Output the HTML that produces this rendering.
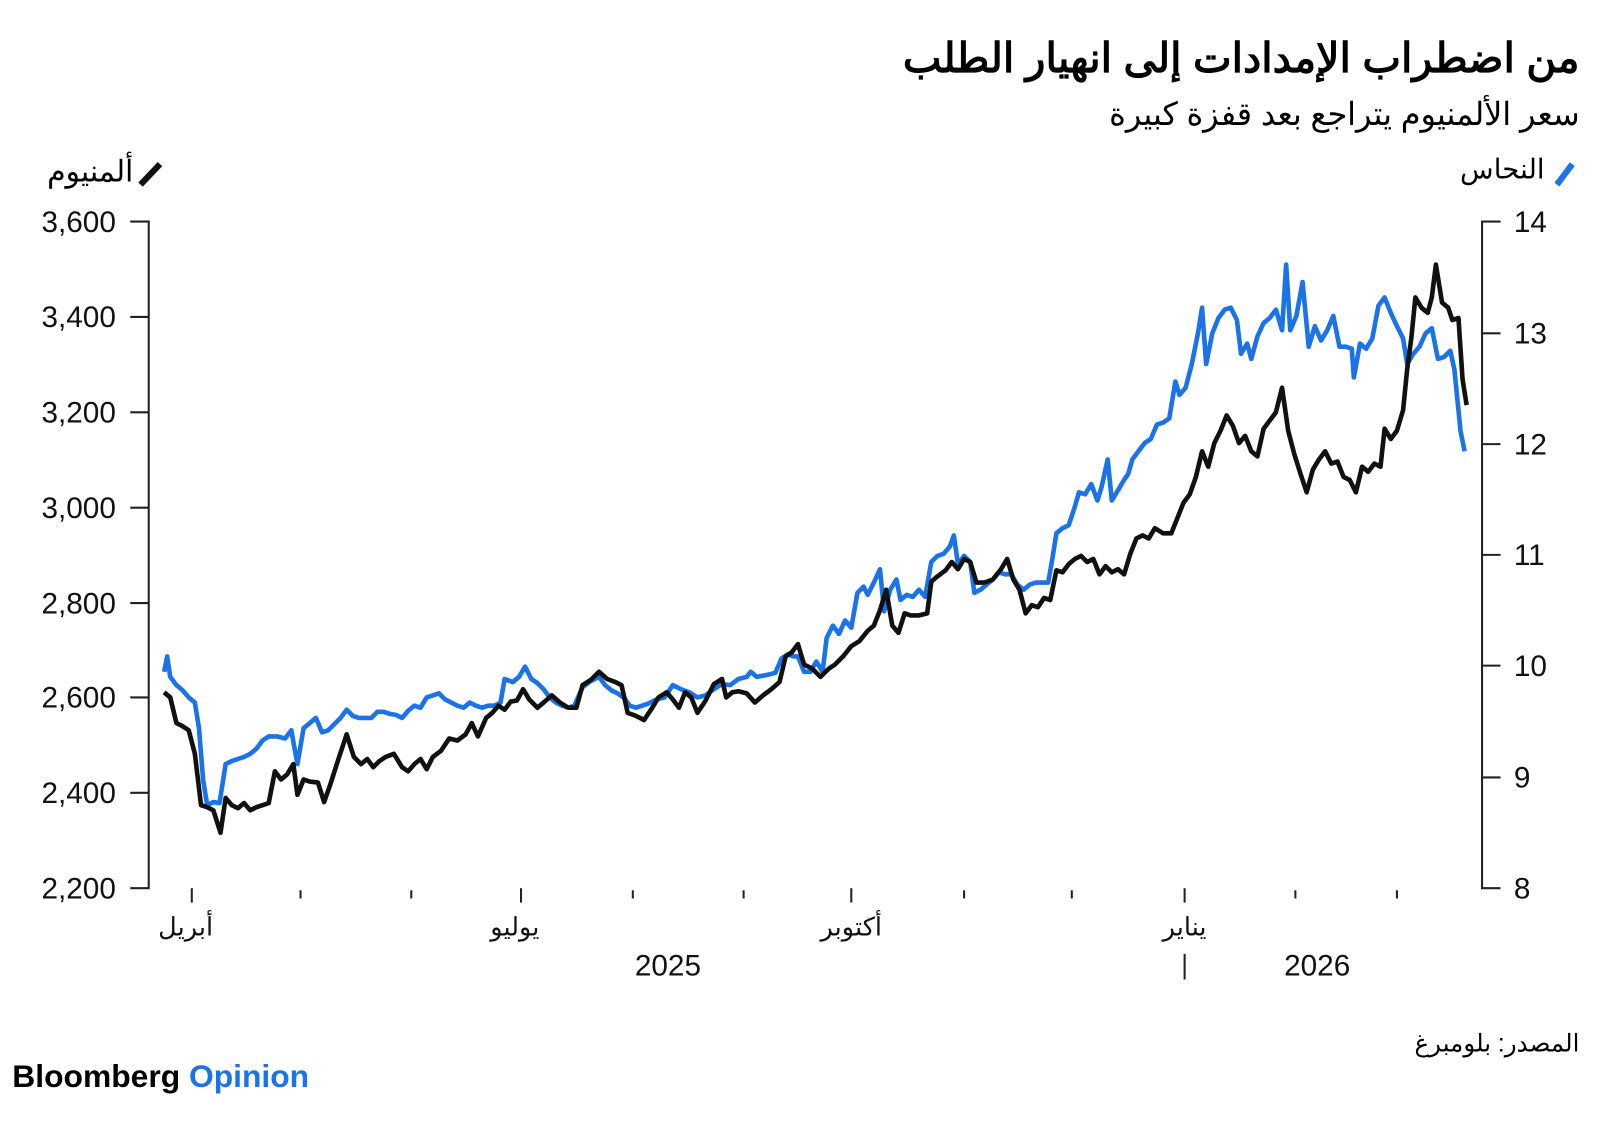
<!DOCTYPE html>
<html><head><meta charset="utf-8">
<style>
html,body{margin:0;padding:0;background:#fff;width:1600px;height:1121px;overflow:hidden}
#w{position:absolute;left:0;top:0;width:1560px;height:1093px;transform:scale(1.02564);transform-origin:0 0;font-family:"Liberation Sans","Noto Sans CJK SC",sans-serif;color:#000}
.t{position:absolute;white-space:nowrap;direction:rtl}
.l{position:absolute;white-space:nowrap}
</style></head><body><div id="w">
<div class="t" style="right:20px;top:34px;font-size:40px;font-weight:bold">من اضطراب الإمدادات إلى انهيار الطلب</div>
<div class="t" style="right:20px;top:94px;font-size:31px">سعر الألمنيوم يتراجع بعد قفزة كبيرة</div>
<div class="t" style="right:54px;top:150px;font-size:27px">النحاس</div>
<div class="t" style="right:1430px;top:150px;font-size:29px">ألمنيوم</div>
<div class="t" style="right:20px;top:1003px;font-size:24px">المصدر: بلومبرغ</div>
<div class="l" style="left:12px;top:1032px;font-size:31px;font-weight:bold">Bloomberg <span style="color:#1a73e8">Opinion</span></div>
<svg width="1560" height="1093" style="position:absolute;left:0;top:0" font-family="Liberation Sans, sans-serif">
<line x1="1518" y1="180" x2="1533" y2="160" stroke="#1a73e8" stroke-width="6"/>
<line x1="137" y1="180" x2="156" y2="160" stroke="#111" stroke-width="6"/>
<g stroke="#222" stroke-width="2" fill="none">
<polyline points="127,216 145,216 145,866 127,866"/>
<polyline points="1463,216 1445,216 1445,866 1463,866"/>
<line x1="145" y1="309" x2="127" y2="309"/><line x1="145" y1="402" x2="127" y2="402"/><line x1="145" y1="495" x2="127" y2="495"/><line x1="145" y1="588" x2="127" y2="588"/><line x1="145" y1="680" x2="127" y2="680"/><line x1="145" y1="773" x2="127" y2="773"/>
<line x1="1445" y1="325" x2="1463" y2="325"/><line x1="1445" y1="433" x2="1463" y2="433"/><line x1="1445" y1="541" x2="1463" y2="541"/><line x1="1445" y1="649" x2="1463" y2="649"/><line x1="1445" y1="758" x2="1463" y2="758"/>
<line x1="187" y1="866" x2="187" y2="880"/><line x1="293" y1="868" x2="293" y2="876"/><line x1="401" y1="868" x2="401" y2="876"/><line x1="508" y1="866" x2="508" y2="880"/><line x1="617" y1="868" x2="617" y2="876"/><line x1="725" y1="868" x2="725" y2="876"/><line x1="830" y1="866" x2="830" y2="880"/><line x1="940" y1="868" x2="940" y2="876"/><line x1="1045" y1="868" x2="1045" y2="876"/><line x1="1155" y1="866" x2="1155" y2="880"/><line x1="1263" y1="868" x2="1263" y2="876"/><line x1="1362" y1="868" x2="1362" y2="876"/>
<line x1="1155" y1="930" x2="1155" y2="955"/>
</g>
<g font-size="29" text-anchor="end" fill="#111">
<text x="113" y="226">3,600</text><text x="113" y="319">3,400</text><text x="113" y="412">3,200</text><text x="113" y="505">3,000</text><text x="113" y="598">2,800</text><text x="113" y="690">2,600</text><text x="113" y="783">2,400</text><text x="113" y="876">2,200</text>
</g>
<g font-size="29" fill="#111">
<text x="1476" y="226">14</text><text x="1476" y="335">13</text><text x="1476" y="443">12</text><text x="1476" y="551">11</text><text x="1476" y="659">10</text><text x="1476" y="768">9</text><text x="1476" y="876">8</text>
<text x="619" y="951">2025</text><text x="1252" y="951">2026</text>
</g>
<g font-size="25" text-anchor="middle" fill="#111" font-family="Liberation Sans, Noto Sans CJK SC, sans-serif">
<text x="181" y="912">أبريل</text><text x="502" y="912">يوليو</text><text x="830" y="912">أكتوبر</text><text x="1155" y="912">يناير</text>
</g>
<polyline fill="none" stroke="#1a73e8" stroke-width="4.5" stroke-linejoin="round" points="160,655 163,640 166,660 172,668 178,673 184,680 190,685 194,710 198,760 202,785 208,782 214,783 220,745 226,742 232,740 238,738 244,735 250,730 256,722 262,718 270,718 278,720 284,712 290,745 296,710 302,705 308,700 314,714 320,712 326,706 332,700 338,692 344,698 350,700 356,700 362,700 368,694 374,694 380,696 386,697 392,700 398,693 404,688 410,690 416,680 422,678 428,676 434,682 440,685 446,688 452,690 458,685 464,688 470,690 476,688 482,688 488,685 492,662 500,665 506,660 512,650 518,662 524,666 530,672 536,680 542,685 548,688 554,690 560,688 568,670 576,664 584,660 590,668 596,673 602,676 608,680 614,688 620,690 626,688 632,686 640,682 648,680 656,668 664,672 672,675 680,680 688,678 696,672 704,667 712,668 720,662 728,660 732,655 738,660 748,658 756,656 762,642 768,638 774,640 778,640 784,655 790,655 796,645 802,655 806,622 812,610 818,618 824,605 830,612 836,578 842,572 846,580 852,568 858,555 862,596 868,575 874,565 878,585 884,580 890,582 896,575 902,582 908,548 914,542 920,540 926,533 930,522 934,550 940,542 946,548 950,578 956,575 962,570 968,565 974,558 980,560 986,560 992,570 998,575 1004,570 1010,568 1016,568 1022,568 1026,545 1030,520 1036,515 1042,512 1048,494 1052,480 1058,482 1064,472 1070,488 1074,475 1080,448 1084,488 1090,478 1096,468 1100,462 1104,448 1110,440 1116,432 1122,428 1128,414 1134,412 1140,408 1146,372 1150,385 1156,378 1162,355 1168,325 1172,300 1176,355 1182,325 1188,310 1194,302 1200,300 1206,312 1210,345 1216,335 1220,350 1226,328 1232,315 1238,310 1244,302 1250,322 1254,258 1258,322 1264,308 1270,275 1276,338 1282,318 1288,332 1294,322 1300,308 1306,338 1312,338 1318,340 1320,368 1326,335 1332,340 1338,330 1344,298 1350,290 1356,305 1362,318 1368,330 1372,355 1378,345 1384,338 1390,325 1396,320 1402,350 1408,348 1414,342 1418,360 1424,420 1428,440"/>
<polyline fill="none" stroke="#111" stroke-width="4.5" stroke-linejoin="round" points="160,675 166,680 172,705 178,708 184,712 190,735 196,785 202,787 208,790 215,812 220,778 226,785 232,788 238,783 244,790 250,787 256,785 262,783 268,752 274,760 280,755 286,745 290,775 296,760 302,762 310,763 316,782 322,765 330,740 338,716 345,738 352,745 358,740 364,748 370,742 376,738 384,735 392,748 398,752 404,745 410,740 416,750 422,738 430,732 438,720 446,722 454,716 460,705 466,718 474,700 480,695 486,688 492,692 498,684 504,683 510,672 516,682 524,690 530,685 538,678 546,685 554,690 562,690 568,668 576,663 584,655 592,662 600,665 606,668 612,695 620,698 628,702 636,690 642,680 650,675 656,682 662,690 668,675 674,680 680,695 688,683 696,667 704,662 708,680 714,675 720,674 728,676 736,685 744,678 752,672 760,665 766,640 772,636 778,628 784,648 792,652 800,660 808,652 814,648 822,640 830,630 838,625 846,615 852,610 858,595 864,575 870,610 876,617 882,598 888,600 896,600 904,598 908,567 914,562 922,556 928,548 934,555 940,545 946,548 952,568 960,568 968,565 976,555 982,545 988,565 994,575 1000,598 1006,590 1012,592 1018,583 1024,585 1030,556 1036,558 1042,550 1048,545 1054,542 1060,548 1066,545 1072,560 1078,552 1084,558 1090,555 1096,560 1102,540 1108,525 1114,522 1120,525 1126,515 1134,520 1142,520 1148,505 1154,490 1160,482 1166,465 1172,440 1178,455 1184,432 1190,420 1196,405 1202,415 1208,432 1214,425 1220,440 1226,445 1232,418 1238,410 1244,402 1250,378 1256,420 1262,443 1268,462 1274,480 1280,458 1286,448 1292,440 1298,452 1304,450 1310,465 1316,468 1322,480 1328,455 1334,460 1340,452 1346,455 1350,418 1356,428 1362,420 1368,400 1372,360 1376,330 1380,290 1386,300 1392,305 1396,290 1400,258 1406,295 1412,300 1416,312 1422,310 1426,370 1430,395"/>
</svg>
</div></body></html>
